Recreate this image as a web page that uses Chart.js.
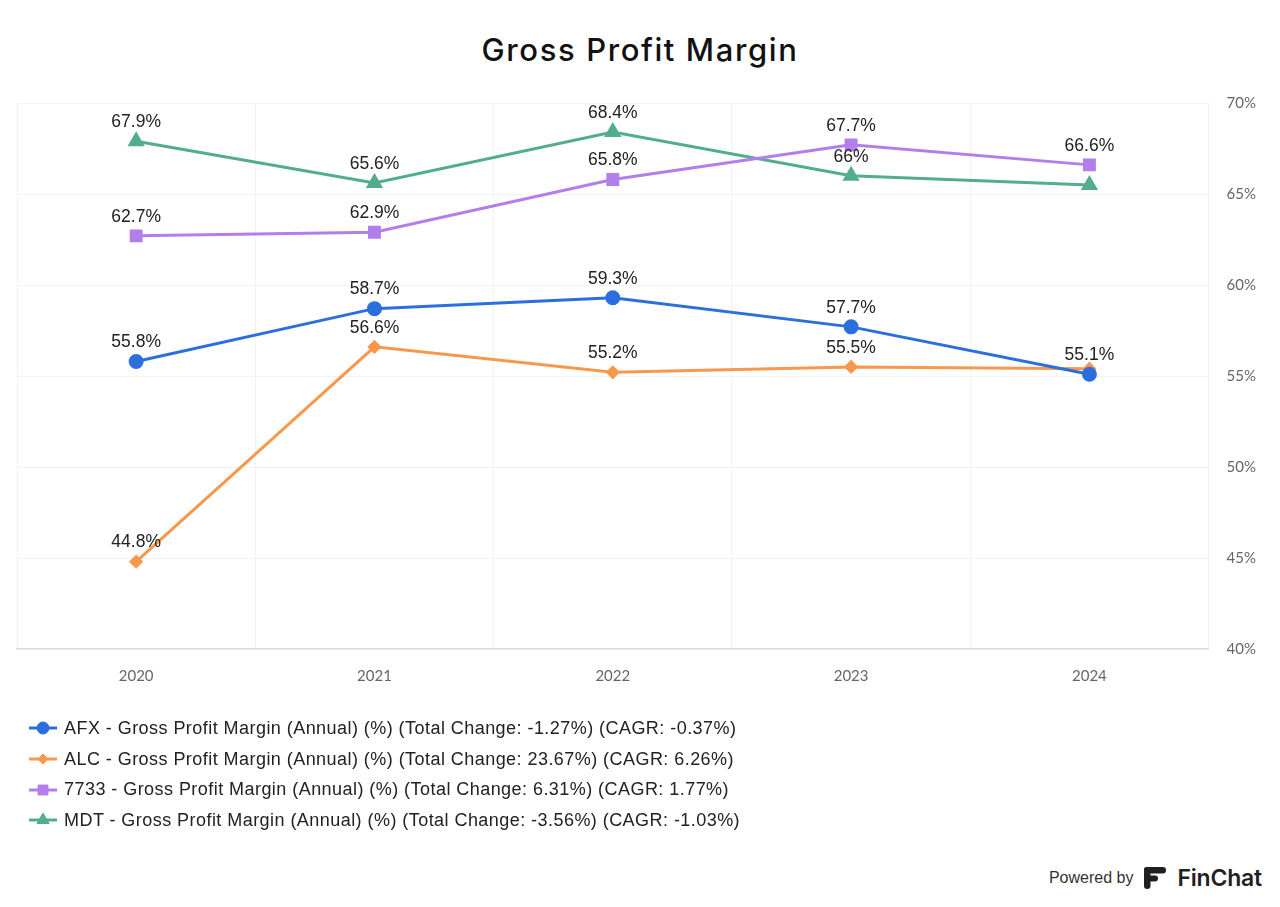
<!DOCTYPE html>
<html>
<head>
<meta charset="utf-8">
<script src="https://cdn.jsdelivr.net/npm/chart.js@4.4.1/dist/chart.umd.min.js"></script>
<style>
  html, body { margin: 0; padding: 0; background: #fff; }
  body { width: 1280px; height: 907px; position: relative; overflow: hidden; font-family: "Liberation Sans", Arial, sans-serif; }
  #title { position: absolute; left: 0; width: 1280px; top: 30px; text-align: center; font-family: Inter, sans-serif; font-weight: 500; font-size: 31px; letter-spacing: 1.6px; color: #111; line-height: 40px; }
  #wrap { position: absolute; left: 0; top: 0; width: 1280px; height: 718px; }
  #legend { position: absolute; left: 29px; top: 713px; }
  .item { display: flex; align-items: center; height: 30.7px; font-size: 18px; letter-spacing: 0.45px; color: #222; }
  .item canvas { margin-right: 7px; }
  #powered { position: absolute; right: 18px; top: 864px; display: flex; align-items: center; color: #333; font-size: 16px; }
  #powered .brand { font-family: Inter, sans-serif; font-weight: 600; font-size: 23px; color: #1f1f24; margin-left: 10px; letter-spacing: -0.2px; }
</style>
</head>
<body>
<div id="title">Gross Profit Margin</div>
<div id="wrap"><canvas id="chart"></canvas></div>
<div id="legend"></div>
<div id="powered">
  <span>Powered by</span>
  <svg width="24" height="24" viewBox="0 0 24 24" style="margin-left:10px">
    <rect x="1" y="1" width="22" height="6.5" rx="3.2" fill="#1f1f24"/>
    <rect x="1" y="9.5" width="14" height="6" rx="3" fill="#1f1f24"/>
    <rect x="1" y="1" width="6.5" height="22" rx="3.2" fill="#1f1f24"/>
  </svg>
  <span class="brand">FinChat</span>
</div>
<script>
const years = ['2020', '2021', '2022', '2023', '2024'];
const afx = [55.8, 58.7, 59.3, 57.7, 55.1];
const alc = [44.8, 56.6, 55.2, 55.5, 55.4];
const s7733 = [62.7, 62.9, 65.8, 67.7, 66.6];
const mdt = [67.9, 65.6, 68.4, 66.0, 65.5];
const seriesNames = [
  'AFX - Gross Profit Margin (Annual) (%) (Total Change: -1.27%) (CAGR: -0.37%)',
  'ALC - Gross Profit Margin (Annual) (%) (Total Change: 23.67%) (CAGR: 6.26%)',
  '7733 - Gross Profit Margin (Annual) (%) (Total Change: 6.31%) (CAGR: 1.77%)',
  'MDT - Gross Profit Margin (Annual) (%) (Total Change: -3.56%) (CAGR: -1.03%)'
];

const colors = ['#2b6fde', '#f7984c', '#b27eec', '#52ad8c'];
const shapes = ['circle', 'rectRot', 'rect', 'triangle'];
const radii = [6, 5, 7, 7];

const fmt = v => (Math.round(v * 10) / 10).toString() + '%';

// point labels, hidden when they collide with an earlier one
const pointLabels = {
  id: 'pointLabels',
  afterDatasetsDraw(chart) {
    const ctx = chart.ctx;
    ctx.save();
    ctx.font = '17.5px "Liberation Sans", Arial, sans-serif';
    ctx.fillStyle = '#222';
    ctx.textAlign = 'center';
    ctx.textBaseline = 'middle';
    const boxes = [];
    chart.data.datasets.forEach((ds, di) => {
      chart.getDatasetMeta(di).data.forEach((pt, i) => {
        const txt = fmt(ds.data[i]);
        const w = ctx.measureText(txt).width + 8;
        const h = 24;
        const cx = pt.x, cy = pt.y - 19;
        const b = { l: cx - w / 2, r: cx + w / 2, t: cy - h / 2, b: cy + h / 2 };
        const hit = boxes.some(o => b.l < o.r && b.r > o.l && b.t < o.b && b.b > o.t);
        if (hit) return;
        boxes.push(b);
        ctx.fillText(txt, cx, cy);
      });
    });
    ctx.restore();
  }
};

const data = [afx, alc, s7733, mdt];
const chart = new Chart(document.getElementById('chart'), {
  type: 'line',
  data: {
    labels: years,
    datasets: data.map((d, i) => ({
      label: seriesNames[i],
      data: d,
      borderColor: colors[i],
      backgroundColor: colors[i],
      borderWidth: 3,
      pointStyle: shapes[i],
      pointRadius: radii[i],
      pointHoverRadius: radii[i],
      tension: 0
    }))
  },
  options: {
    responsive: true,
    maintainAspectRatio: false,
    animation: false,
    layout: { padding: { left: 17, right: 6, top: 103, bottom: 15 } },
    plugins: {
      legend: { display: false },
      tooltip: { enabled: false },
      title: { display: false }
    },
    scales: {
      x: {
        offset: true,
        grid: { offset: true, color: '#f3f3f3', drawTicks: false },
        border: { color: '#dcdcdc', width: 1.5 },
        ticks: { padding: 18, color: '#666', font: { family: 'Lato', size: 15 } }
      },
      y: {
        position: 'right',
        min: 40,
        max: 70,
        grid: { color: '#f3f3f3', drawTicks: false },
        border: { display: false },
        ticks: { stepSize: 5, padding: 18, color: '#666', font: { family: 'Lato', size: 15 }, callback: v => v + '%' }
      }
    }
  },
  plugins: [pointLabels]
});

// legend with line + marker icons
const legend = document.getElementById('legend');
seriesNames.forEach((name, i) => {
  const row = document.createElement('div');
  row.className = 'item';
  const c = document.createElement('canvas');
  c.width = 28; c.height = 18;
  const g = c.getContext('2d');
  g.strokeStyle = colors[i];
  g.fillStyle = colors[i];
  g.lineWidth = 3;
  g.beginPath(); g.moveTo(0, 9); g.lineTo(28, 9); g.stroke();
  g.lineWidth = 1;
  Chart.helpers.drawPoint(g, { pointStyle: shapes[i], radius: radii[i], borderWidth: 1 }, 14, 9);
  const span = document.createElement('span');
  span.textContent = name;
  row.appendChild(c);
  row.appendChild(span);
  legend.appendChild(row);
});
</script>
</body>
</html>
